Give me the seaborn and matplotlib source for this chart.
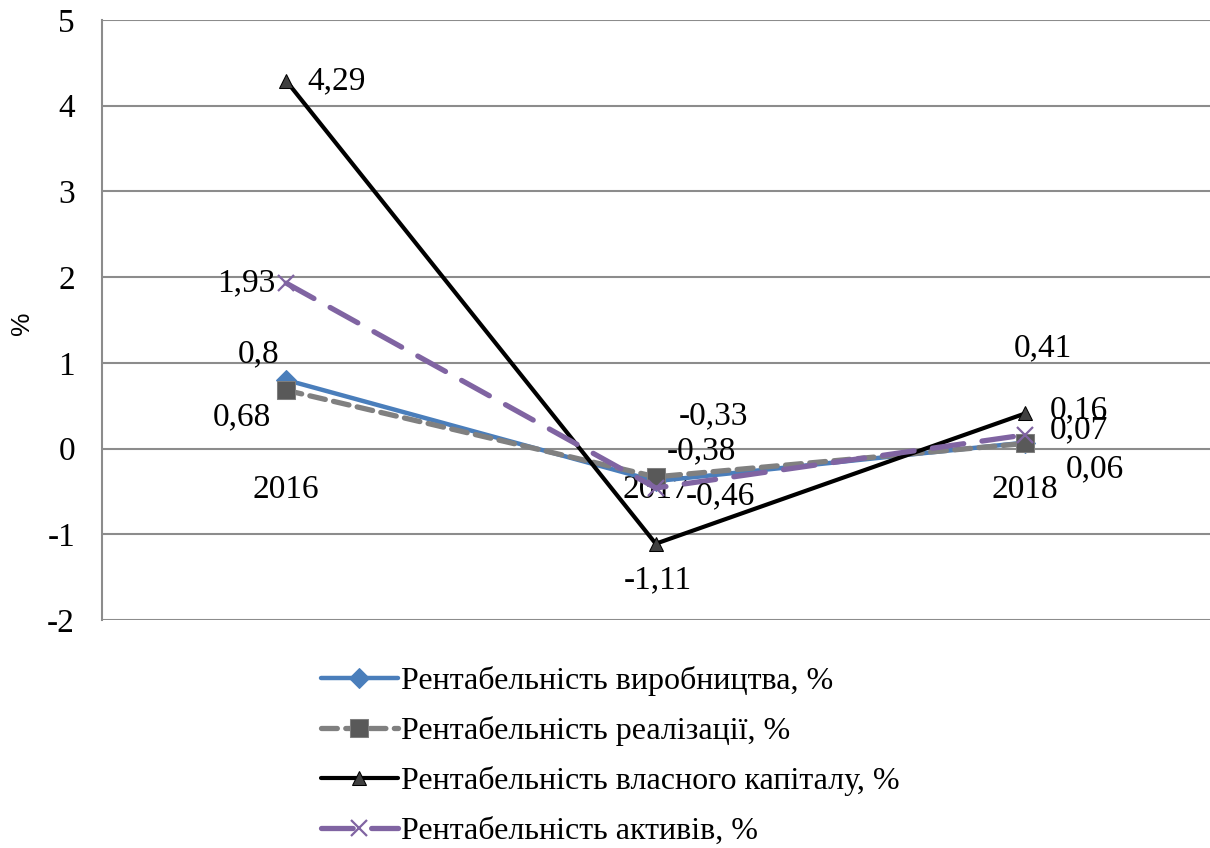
import matplotlib
matplotlib.use("Agg")
import matplotlib.pyplot as plt
import seaborn as sns
import pandas as pd

# Profitability indicators by year
years = ["2016", "2017", "2018"]
production = [0.8, -0.38, 0.07]
sales = [0.68, -0.33, 0.06]
equity = [4.29, -1.11, 0.41]
assets = [1.93, -0.46, 0.16]

names = [
    "Рентабельність виробництва, %",
    "Рентабельність реалізації, %",
    "Рентабельність власного капіталу, %",
    "Рентабельність активів, %",
]
y_ticks = [-2, -1, 0, 1, 2, 3, 4, 5]

sns.set_theme(style="white")
plt.rcParams["font.family"] = ["Liberation Serif", "DejaVu Serif"]
plt.rcParams.update({"text.color": "black", "axes.labelcolor": "black",
                     "xtick.color": "black", "ytick.color": "black"})

FS = 24

fig = plt.figure(figsize=(12.1, 8.48), dpi=100)
ax = fig.add_axes([101.5 / 1210, 1 - 620 / 848, 1 - 101.5 / 1210, 600 / 848])

series = [production, sales, equity, assets]
styles = [
    dict(color="#4A7EBB", lw=3.2, marker="D", ms=10, mfc="#4A7EBB", mec="#4A7EBB",
         linestyle="-"),
    dict(color="#808080", lw=3.8, marker="s", ms=13, mfc="#595959", mec="#7F7F7F",
         linestyle=(0, (3, 1.6)), dash_capstyle="round"),
    dict(color="black", lw=3.0, marker="^", ms=10, mfc="#404040", mec="black",
         linestyle="-"),
    dict(color="#8064A2", lw=3.8, marker="x", ms=12, mew=1.6, mfc="#8064A2",
         mec="#8064A2", linestyle=(0, (6, 3.5)), dash_capstyle="round"),
]

for name, vals, st in zip(names, series, styles):
    df = pd.DataFrame({"year": years, "value": vals})
    sns.lineplot(data=df, x="year", y="value", ax=ax, label=name, sort=False, **st)

# Data labels (offsets in pixels from each point)
offsets = [
    [(-28, 26), (46, 30), (54, 13)],
    [(-44, -27), (58, 61), (70, -26)],
    [(50, 0), (2, -36), (18, 65)],
    [(-40, 0), (65, -8), (54, 25)],
]
for vals, offs in zip(series, offsets):
    for i, (v, (dx, dy)) in enumerate(zip(vals, offs)):
        ax.annotate(f"{v:g}".replace(".", ","), xy=(i, v), xytext=(dx, dy),
                    textcoords="offset pixels", ha="center", va="center",
                    fontsize=FS, color="black")

ax.set_xlim(-0.5, 2.5)
ax.set_ylim(-2, 5)
ax.set_yticks(y_ticks)
ax.set_yticklabels([str(t) for t in y_ticks])
ax.yaxis.grid(True, color="#8C8C8C", lw=1.5)
ax.xaxis.grid(False)

# Category axis crosses at zero
ax.spines["bottom"].set_position(("data", 0))
ax.spines["bottom"].set_visible(False)
for s in ["top", "right"]:
    ax.spines[s].set_visible(False)
ax.spines["left"].set_color("#8C8C8C")
ax.spines["left"].set_linewidth(1.5)

ax.tick_params(axis="x", length=0, pad=19, labelsize=FS, labelcolor="black")
ax.tick_params(axis="y", length=0, pad=19, labelsize=FS, labelcolor="black")
ax.set_xlabel("")
ax.set_ylabel("%", fontsize=19, family=["Liberation Sans", "DejaVu Sans"],
              color="black")
ax.yaxis.label.set_va("center")
ax.yaxis.set_label_coords(-79.5 / 1108, 0.495)

handles, labels = ax.get_legend_handles_labels()
ax.get_legend().remove()
fig.legend(handles, labels, loc="upper left",
           bbox_to_anchor=(321 / 1210, 1 - 666 / 848), frameon=False,
           fontsize=23, handlelength=2.4, handletextpad=0.1,
           labelspacing=0.63, borderpad=0, borderaxespad=0,
           labelcolor="black")

fig.savefig("out.png", dpi=100)
